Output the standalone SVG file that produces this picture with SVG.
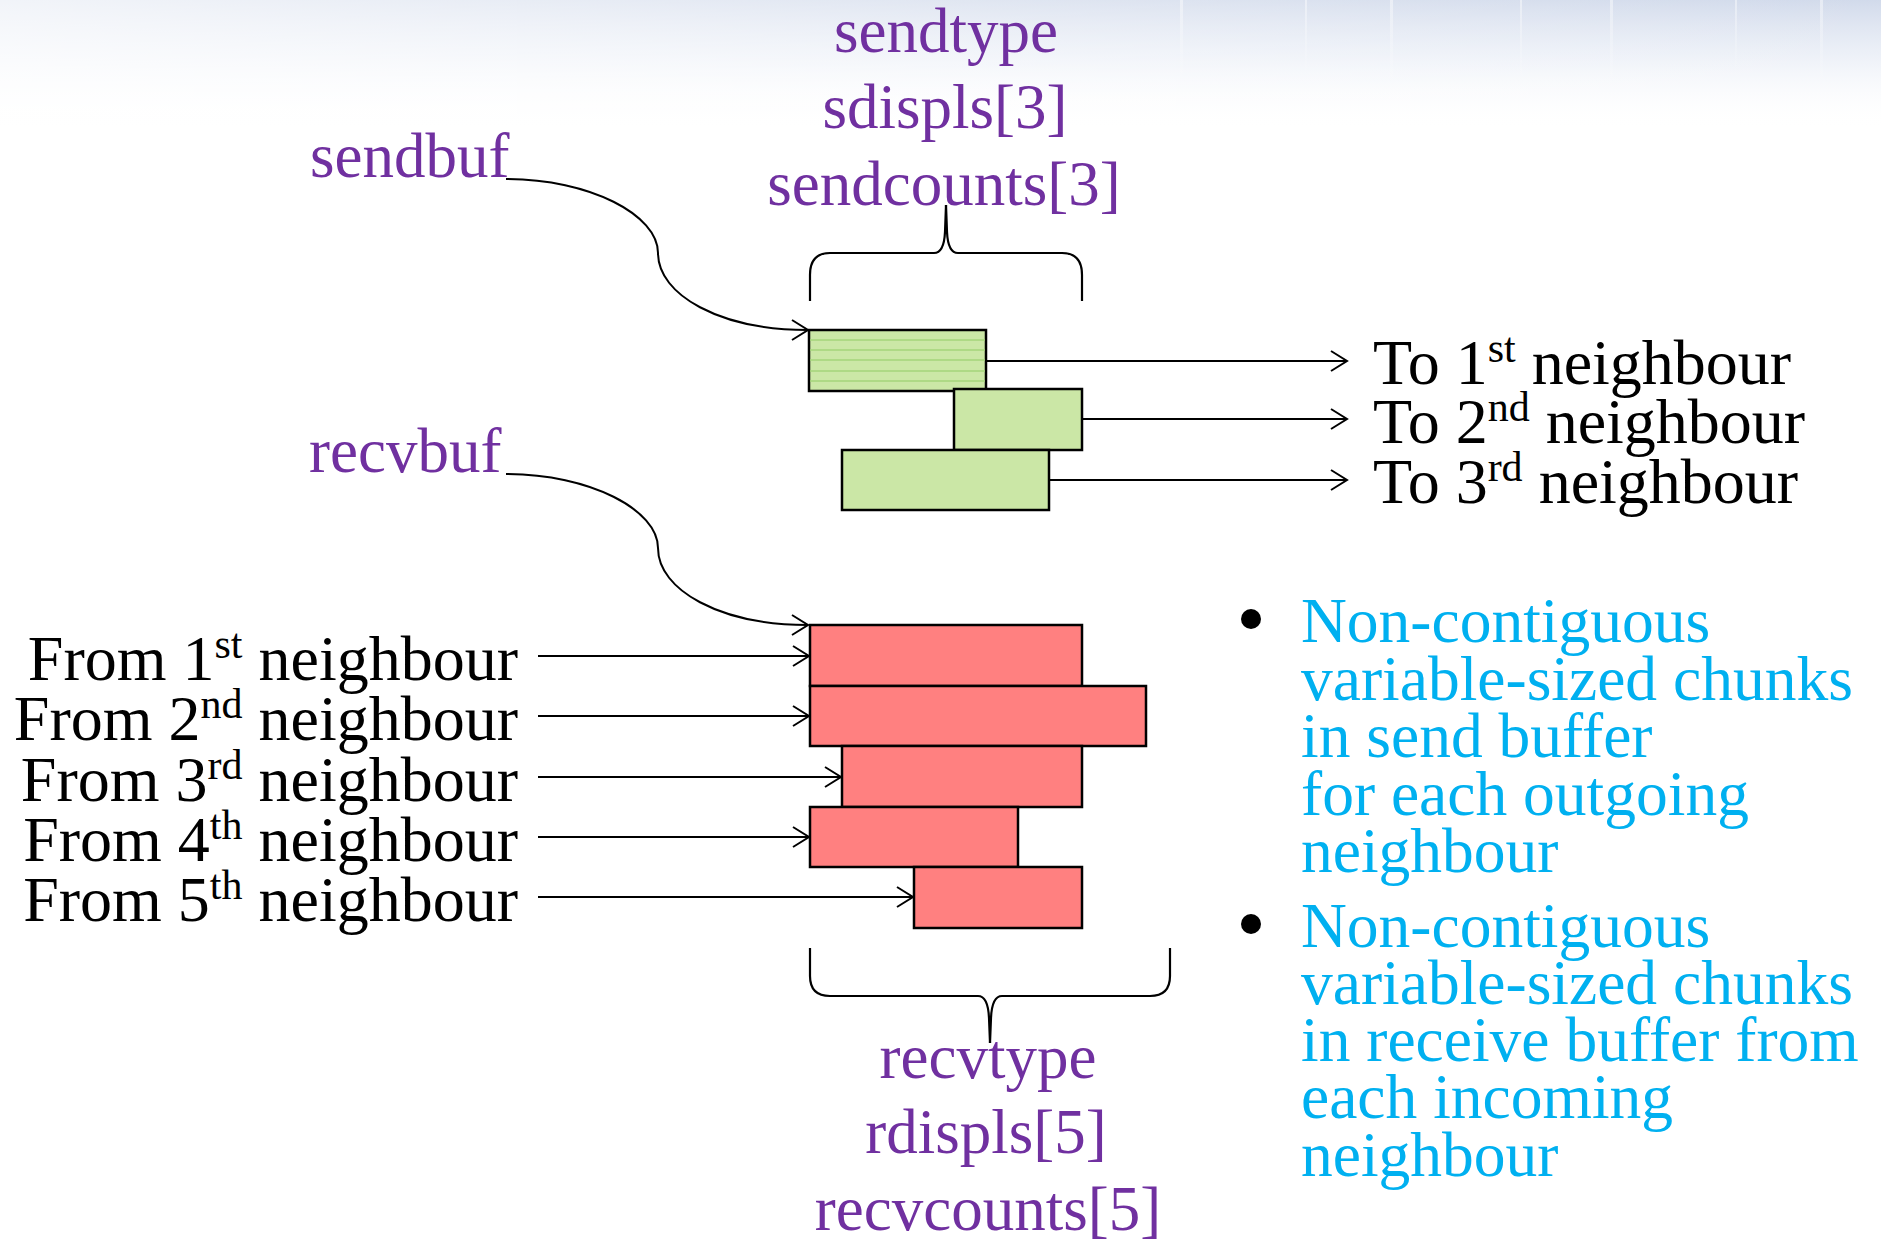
<svg xmlns="http://www.w3.org/2000/svg" width="1881" height="1240" viewBox="0 0 1881 1240">
  <defs>
    <linearGradient id="topFade" x1="0" y1="0" x2="0" y2="1">
      <stop offset="0" stop-color="#cfd8ea" stop-opacity="0.95"/>
      <stop offset="0.45" stop-color="#e3e9f4" stop-opacity="0.6"/>
      <stop offset="1" stop-color="#ffffff" stop-opacity="0"/>
    </linearGradient>
    <linearGradient id="leftFade" x1="0" y1="0" x2="1" y2="0">
      <stop offset="0" stop-color="#ffffff" stop-opacity="0.7"/>
      <stop offset="0.55" stop-color="#ffffff" stop-opacity="0.3"/>
      <stop offset="1" stop-color="#ffffff" stop-opacity="0"/>
    </linearGradient>
    <linearGradient id="streak" x1="0" y1="0" x2="0" y2="1">
      <stop offset="0" stop-color="#ffffff" stop-opacity="0.45"/>
      <stop offset="1" stop-color="#ffffff" stop-opacity="0"/>
    </linearGradient>
    <marker id="arrow" markerUnits="userSpaceOnUse" viewBox="-19 -12 21 24" refX="0" refY="0" markerWidth="21" markerHeight="24" orient="auto">
      <path d="M-16,-10 L0,0 L-16,10" fill="none" stroke="#000" stroke-width="2"/>
    </marker>
  </defs>
  <style>
    .lbl { font-family: "Liberation Serif", "Times New Roman", serif; font-size: 63px; }
    .big { font-size: 64px; }
    .purple { fill: #7030A0; }
    .black { fill: #000000; }
    .cyan { fill: #00B0F0; font-size: 63.5px; }
    .sup { font-size: 42px; }
    .green { fill: #CBE7A6; stroke: #000; stroke-width: 2.5; }
    .red { fill: #FF8080; stroke: #000; stroke-width: 2.5; }
    .stripe { stroke: #A5D57A; stroke-width: 1.5; }
    .conn { fill: none; stroke: #000; stroke-width: 2; }
    .brace { fill: none; stroke: #000; stroke-width: 2.2; }
  </style>

  <rect width="1881" height="1240" fill="#ffffff"/>
  <rect x="0" y="0" width="1881" height="130" fill="url(#topFade)"/>
  <rect x="0" y="0" width="1881" height="130" fill="url(#leftFade)"/>
  <g fill="url(#streak)">
    <rect x="1180" y="0" width="3" height="90"/>
    <rect x="1305" y="0" width="2" height="80"/>
    <rect x="1390" y="0" width="3" height="95"/>
    <rect x="1520" y="0" width="2" height="85"/>
    <rect x="1610" y="0" width="3" height="90"/>
    <rect x="1735" y="0" width="2" height="75"/>
    <rect x="1820" y="0" width="3" height="90"/>
  </g>

  <!-- send side -->
  <g id="sendbuf-label">
    <text class="lbl purple" x="310" y="177">sendbuf</text>
  </g>
  <g id="send-params">
    <text class="lbl purple" x="946" y="52" text-anchor="middle">sendtype</text>
    <text class="lbl purple" x="945" y="128" text-anchor="middle">sdispls[3]</text>
    <text class="lbl purple" x="944" y="205" text-anchor="middle">sendcounts[3]</text>
  </g>
  <g id="send-brace">
    <path class="brace" d="M810,301 L810,275 Q810,253 830,253 L934,253 Q944,253 945,232 L946,205"/>
    <path class="brace" d="M1082,301 L1082,275 Q1082,253 1062,253 L958,253 Q948,253 947,232 L946,205"/>
  </g>
  <g id="send-chunk-1">
    <rect class="green" x="809" y="330" width="177" height="61"/>
    <line class="stripe" x1="810" y1="340" x2="985" y2="340"/>
    <line class="stripe" x1="810" y1="350" x2="985" y2="350"/>
    <line class="stripe" x1="810" y1="360" x2="985" y2="360"/>
    <line class="stripe" x1="810" y1="371" x2="985" y2="371"/>
    <line class="stripe" x1="810" y1="381" x2="985" y2="381"/>
  </g>
  <g id="send-chunk-2">
    <rect class="green" x="954" y="389" width="128" height="61"/>
  </g>
  <g id="send-chunk-3">
    <rect class="green" x="842" y="450" width="207" height="60"/>
  </g>
  <g id="to-labels">
    <text class="lbl big black" x="1373" y="384">To 1<tspan class="sup" dy="-22">st</tspan><tspan dy="22"> neighbour</tspan></text>
    <text class="lbl big black" x="1373" y="443">To 2<tspan class="sup" dy="-22">nd</tspan><tspan dy="22"> neighbour</tspan></text>
    <text class="lbl big black" x="1373" y="503">To 3<tspan class="sup" dy="-22">rd</tspan><tspan dy="22"> neighbour</tspan></text>
  </g>

  <!-- receive side -->
  <g id="recvbuf-label">
    <text class="lbl purple" x="309" y="472">recvbuf</text>
  </g>
  <g id="recv-chunk-1"><rect class="red" x="810" y="625" width="272" height="61"/></g>
  <g id="recv-chunk-2"><rect class="red" x="810" y="686" width="336" height="60"/></g>
  <g id="recv-chunk-3"><rect class="red" x="842" y="746" width="240" height="61"/></g>
  <g id="recv-chunk-4"><rect class="red" x="810" y="807" width="208" height="60"/></g>
  <g id="recv-chunk-5"><rect class="red" x="914" y="867" width="168" height="61"/></g>
  <g id="from-labels">
    <text class="lbl big black" x="518" y="680" text-anchor="end">From 1<tspan class="sup" dy="-22">st</tspan><tspan dy="22"> neighbour</tspan></text>
    <text class="lbl big black" x="518" y="740" text-anchor="end">From 2<tspan class="sup" dy="-22">nd</tspan><tspan dy="22"> neighbour</tspan></text>
    <text class="lbl big black" x="518" y="801" text-anchor="end">From 3<tspan class="sup" dy="-22">rd</tspan><tspan dy="22"> neighbour</tspan></text>
    <text class="lbl big black" x="518" y="861" text-anchor="end">From 4<tspan class="sup" dy="-22">th</tspan><tspan dy="22"> neighbour</tspan></text>
    <text class="lbl big black" x="518" y="921" text-anchor="end">From 5<tspan class="sup" dy="-22">th</tspan><tspan dy="22"> neighbour</tspan></text>
  </g>
  <g id="recv-brace">
    <path class="brace" d="M810,948 L810,976 Q810,996 830,996 L978,996 Q988,996 989,1018 L990,1043"/>
    <path class="brace" d="M1170,948 L1170,976 Q1170,996 1150,996 L1002,996 Q992,996 991,1018 L990,1043"/>
  </g>
  <g id="recv-params">
    <text class="lbl purple" x="988" y="1078" text-anchor="middle">recvtype</text>
    <text class="lbl purple" x="986" y="1153" text-anchor="middle">rdispls[5]</text>
    <text class="lbl purple" x="988" y="1230" text-anchor="middle">recvcounts[5]</text>
  </g>

  <!-- bullets -->
  <g id="bullet-1">
    <circle cx="1251" cy="619" r="10" fill="#000"/>
    <text class="lbl cyan" x="1301" y="642">Non-contiguous</text>
    <text class="lbl cyan" x="1301" y="700">variable-sized chunks</text>
    <text class="lbl cyan" x="1301" y="757">in send buffer</text>
    <text class="lbl cyan" x="1301" y="815">for each outgoing</text>
    <text class="lbl cyan" x="1301" y="872">neighbour</text>
  </g>
  <g id="bullet-2">
    <circle cx="1251" cy="924" r="10" fill="#000"/>
    <text class="lbl cyan" x="1301" y="947">Non-contiguous</text>
    <text class="lbl cyan" x="1301" y="1004">variable-sized chunks</text>
    <text class="lbl cyan" x="1301" y="1061">in receive buffer from</text>
    <text class="lbl cyan" x="1301" y="1118">each incoming</text>
    <text class="lbl cyan" x="1301" y="1176">neighbour</text>
  </g>

  <!-- connectors -->
  <g id="connectors">
    <path class="conn" marker-end="url(#arrow)" d="M506,179 C590,179 658,215 658,253 C658,295 720,330 808,330"/>
    <path class="conn" marker-end="url(#arrow)" d="M506,474 C590,474 658,510 658,548 C658,590 720,625 808,625"/>
    <line class="conn" marker-end="url(#arrow)" x1="986" y1="361" x2="1347" y2="361"/>
    <line class="conn" marker-end="url(#arrow)" x1="1082" y1="419" x2="1347" y2="419"/>
    <line class="conn" marker-end="url(#arrow)" x1="1049" y1="480" x2="1347" y2="480"/>
    <line class="conn" marker-end="url(#arrow)" x1="538" y1="656" x2="809" y2="656"/>
    <line class="conn" marker-end="url(#arrow)" x1="538" y1="716" x2="809" y2="716"/>
    <line class="conn" marker-end="url(#arrow)" x1="538" y1="777" x2="841" y2="777"/>
    <line class="conn" marker-end="url(#arrow)" x1="538" y1="837" x2="809" y2="837"/>
    <line class="conn" marker-end="url(#arrow)" x1="538" y1="897" x2="913" y2="897"/>
  </g>
</svg>
